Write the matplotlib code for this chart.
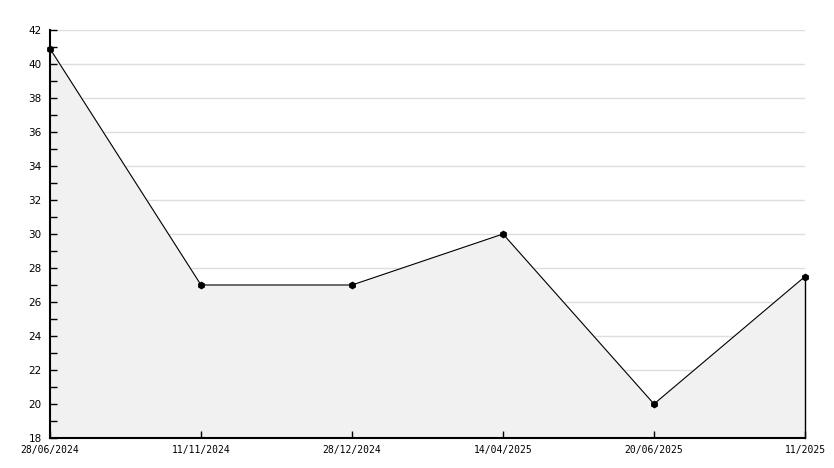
import matplotlib
matplotlib.use("Agg")
import matplotlib.pyplot as plt
from matplotlib.ticker import MultipleLocator

# values
dates = ["28/06/2024", "11/11/2024", "28/12/2024", "14/04/2025", "20/06/2025", "11/2025"]
values = [40.9, 27.0, 27.0, 30.0, 20.0, 27.5]

x = list(range(len(dates)))

fig = plt.figure(figsize=(8.34, 4.68), dpi=100)
ax = fig.add_axes([50 / 834, 30 / 468, 755 / 834, 408 / 468])

ax.set_xlim(0, len(dates) - 1)
ax.set_ylim(18, 42)
ax.set_xticks(x)
ax.set_xticklabels(dates)
ax.yaxis.set_major_locator(MultipleLocator(2))
ax.yaxis.set_minor_locator(MultipleLocator(1))

# grid under the filled area, ticks above it
for yv in ax.get_yticks():
    if 18 < yv <= 42:
        ax.axhline(yv, color="#dddddd", lw=1, zorder=0)

ax.fill_between(x, values, 18, color="#f1f1f1", zorder=1)
ax.plot([x[-1], x[-1]], [18, values[-1]], color="black", lw=1, zorder=2, clip_on=False)
ax.plot(x, values, color="black", lw=0.8, marker="h", ms=4.5, zorder=3, clip_on=False)

for side in ["top", "right"]:
    ax.spines[side].set_visible(False)
ax.spines["left"].set_linewidth(1.5)
ax.spines["bottom"].set_linewidth(1.5)

ax.tick_params(axis="both", which="both", direction="in", length=5, width=1,
               labelsize=7)
ax.tick_params(axis="x", pad=5)
ax.tick_params(axis="y", pad=6, labelsize=7.5)
for lab in ax.get_xticklabels():
    lab.set_family("DejaVu Sans Mono")

fig.savefig("out.png", dpi=100)
